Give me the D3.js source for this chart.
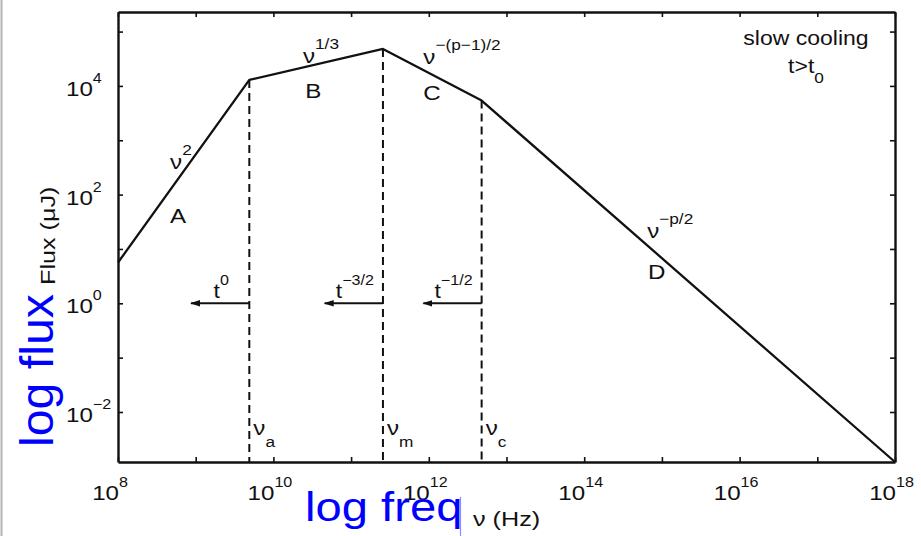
<!DOCTYPE html>
<html>
<head>
<meta charset="utf-8">
<script src="https://cdn.jsdelivr.net/npm/d3@7"></script>
<style>
  body { margin: 0; background: #fff; }
  svg { display: block; font-family: "Liberation Sans", Arial, Helvetica, sans-serif; }
</style>
</head>
<body>
<svg id="chart" width="921" height="536"></svg>
<script>
const width = 921;
const height = 536;

// spectrum breakpoints (powers of ten)
const freqExp = [8, 9.69, 11.41, 12.68, 18];
const fluxExp = [0.75, 4.11, 4.68, 3.73, -2.92];

// break frequencies nu_a, nu_m, nu_c
const breakFreqExp = [9.69, 11.41, 12.68];
const breakFluxExp = [4.11, 4.68, 3.73];
const breakNames = ["a", "m", "c"];

// time evolution of the breaks, arrows drawn at F = 1
const arrowPowers = ["0", "−3/2", "−1/2"];
const arrowFluxExp = 0;
const arrowLenDecades = 0.75;

// spectral segments
const segNames = ["A", "B", "C", "D"];
const segSlopes = ["2", "1/3", "−(p−1)/2", "−p/2"];

// ticks
const xTickExp = [8, 9, 10, 11, 12, 13, 14, 15, 16, 17, 18];
const xLabelExp = [8, 10, 12, 14, 16, 18];
const yTickExp = [-2, -1, 0, 1, 2, 3, 4, 5];
const yLabelExp = [-2, 0, 2, 4];

const margin = {top: 12, right: 26, bottom: 74, left: 118};
const SX = 1.15; // the figure's text is a bit wider than Arial
const ink = "#111";

const svg = d3.select("#chart");

const x = d3.scaleLog()
    .domain([1e8, 1e18])
    .range([margin.left, width - margin.right]);
const y = d3.scaleLog()
    .domain([10 ** -2.92, 10 ** 5.36])
    .range([height - margin.bottom, margin.top]);

const px = e => x(10 ** e);
const py = e => y(10 ** e);

function txt(parent, tx, ty, size, anchor, opts = {}) {
    const rot = opts.rotate ? ` rotate(${opts.rotate})` : "";
    return parent.append("text")
        .attr("transform", `translate(${tx},${ty})${rot} scale(${opts.sx || SX},1)`)
        .attr("font-size", size)
        .attr("text-anchor", anchor || "start")
        .attr("fill", opts.fill || ink);
}

// left grey edge of the slide
svg.append("line")
    .attr("x1", 1.5).attr("x2", 1.5)
    .attr("y1", 0).attr("y2", height)
    .attr("stroke", "#b4b4b4")
    .attr("stroke-width", 2);

svg.append("defs").append("marker")
    .attr("id", "head")
    .attr("markerUnits", "userSpaceOnUse")
    .attr("viewBox", "0 -4 10 8")
    .attr("refX", 9).attr("refY", 0)
    .attr("markerWidth", 10).attr("markerHeight", 8)
    .attr("orient", "auto")
    .append("path")
    .attr("d", "M0,-3.2L10,0L0,3.2Z")
    .attr("fill", ink);

// axes frame, inward ticks on all four sides
const xTicks = xTickExp.map(e => 10 ** e);
const yTicks = yTickExp.map(e => 10 ** e);

const axes = [
    [d3.axisBottom(x).tickValues(xTicks), `translate(0,${height - margin.bottom})`],
    [d3.axisTop(x).tickValues(xTicks), `translate(0,${margin.top})`],
    [d3.axisLeft(y).tickValues(yTicks), `translate(${margin.left},0)`],
    [d3.axisRight(y).tickValues(yTicks), `translate(${width - margin.right},0)`]
];
axes.forEach(([axis, tr]) => {
    const g = svg.append("g")
        .attr("transform", tr)
        .call(axis.tickSize(-5).tickSizeOuter(0).tickFormat(""));
    g.select(".domain").attr("stroke", ink).attr("stroke-width", 2.4);
    g.selectAll(".tick line").attr("stroke", ink).attr("stroke-width", 1.6);
});

// tick labels
xLabelExp.forEach(e => {
    const tx = px(e);
    txt(svg, tx + 1, 500, 21, "end").text("10");
    txt(svg, tx + 1, 487, 14, "start").text(e);
});
yLabelExp.forEach(e => {
    const t = txt(svg, 66, py(e) + 10, 21, "start");
    t.append("tspan").text("10");
    t.append("tspan").attr("dy", -13).attr("font-size", 14).text(e < 0 ? "−" + (-e) : e);
});

// dashed break lines
const plot = svg.append("g");
breakFreqExp.forEach((e, i) => {
    plot.append("line")
        .attr("x1", px(e)).attr("x2", px(e))
        .attr("y1", py(breakFluxExp[i])).attr("y2", height - margin.bottom)
        .attr("stroke", ink)
        .attr("stroke-width", 2)
        .attr("stroke-dasharray", "8,5");

    const t = txt(plot, px(e) + 4, 435, 21, "start");
    t.append("tspan").text("ν");
    t.append("tspan").attr("dy", 12).attr("font-size", 15).text(breakNames[i]);
});

// arrows: breaks move to lower frequency with time
breakFreqExp.forEach((e, i) => {
    const x0 = px(e);
    const x1 = px(e - arrowLenDecades);
    const ya = py(arrowFluxExp);
    plot.append("line")
        .attr("x1", x0).attr("x2", x1)
        .attr("y1", ya).attr("y2", ya)
        .attr("stroke", ink)
        .attr("stroke-width", 2)
        .attr("marker-end", "url(#head)");
    const t = txt(plot, (x0 + x1) / 2 + 1, ya - 5, 20, "middle");
    t.append("tspan").text("t");
    t.append("tspan").attr("dy", -13).attr("font-size", 14).text(arrowPowers[i]);
});

// the spectrum
const line = d3.line()
    .x(d => px(d[0]))
    .y(d => py(d[1]));
plot.append("path")
    .datum(freqExp.map((f, i) => [f, fluxExp[i]]))
    .attr("fill", "none")
    .attr("stroke", ink)
    .attr("stroke-width", 2.3)
    .attr("stroke-linejoin", "round")
    .attr("d", line);

// segment labels, placed in data coordinates
const slopeAt = [[8.67, 2.48], [10.38, 4.42], [11.93, 4.40], [14.81, 1.20]];
const nameAt = [[8.67, 1.48], [10.41, 3.78], [11.93, 3.74], [14.82, 0.44]];
segNames.forEach((name, i) => {
    const s = txt(plot, px(slopeAt[i][0]), py(slopeAt[i][1]), 21, "start");
    s.append("tspan").text("ν");
    s.append("tspan").attr("dy", -14).attr("font-size", 15).text(segSlopes[i]);
    txt(plot, px(nameAt[i][0]), py(nameAt[i][1]), 21, "start").text(name);
});

// regime note
const noteX = width - margin.right - 89;
txt(svg, noteX, margin.top + 33, 20, "middle").text("slow cooling");
const note = txt(svg, noteX, margin.top + 61, 20, "middle");
note.append("tspan").text("t>t");
note.append("tspan").attr("dy", 10).attr("font-size", 15).text("0");

// axis titles
txt(svg, 55, 285, 21, "start", {rotate: -90, sx: 1.2}).text("Flux (μJ)");
txt(svg, 473, 526, 21, "start", {sx: 1.2}).text("ν (Hz)");
txt(svg, 53, 447, 46, "start", {rotate: -90, sx: 1.05, fill: "#0000ff"}).text("log flux");
txt(svg, 305, 521, 40, "start", {sx: 1.18, fill: "#0000ff"}).text("log freq");

// thin blue edge left by the text box
svg.append("line")
    .attr("x1", 460.5).attr("x2", 460.5)
    .attr("y1", 497).attr("y2", height)
    .attr("stroke", "#8c8cff")
    .attr("stroke-width", 1.2);
</script>
</body>
</html>
